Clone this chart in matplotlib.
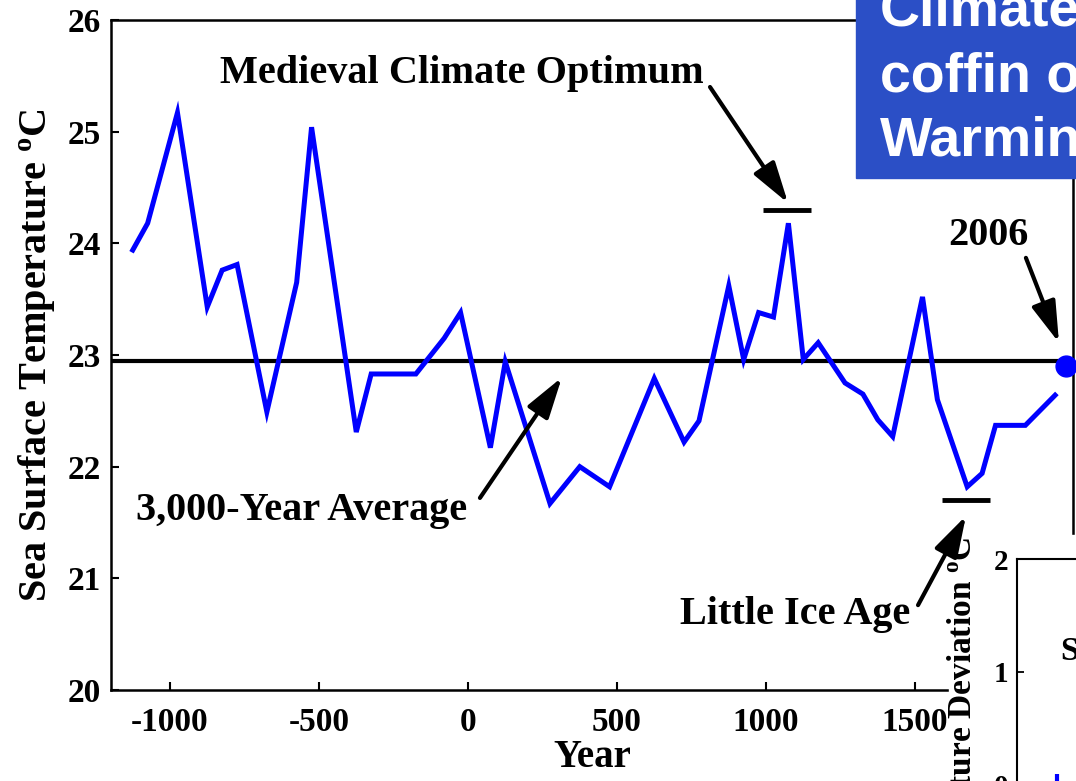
import matplotlib
matplotlib.use("Agg")
import matplotlib.pyplot as plt
from matplotlib.patches import Rectangle
from matplotlib.text import Annotation

plt.rcParams['font.family'] = ['Liberation Serif', 'DejaVu Serif']
plt.rcParams['font.weight'] = 'bold'
plt.rcParams['axes.labelweight'] = 'bold'
plt.rcParams['axes.unicode_minus'] = False
plt.rcParams['mathtext.fontset'] = 'custom'
plt.rcParams['mathtext.rm'] = 'Liberation Serif:bold'
plt.rcParams['mathtext.it'] = 'Liberation Serif:bold:italic'
plt.rcParams['mathtext.bf'] = 'Liberation Serif:bold'

# --- Sargasso Sea surface temperature reconstruction ---
years = [-1125, -1075, -975, -875, -825, -775, -675, -575, -525, -375, -325, -175,
         -80, -25, 75, 125, 275, 375, 475, 625, 725, 775, 875, 925, 975, 1025,
         1075, 1125, 1175, 1265, 1325, 1375, 1425, 1525, 1575, 1675, 1725, 1770,
         1870, 1970]
sst = [23.94, 24.18, 25.17, 23.43, 23.76, 23.81, 22.49, 23.65, 25.04, 22.31, 22.83,
       22.83, 23.15, 23.38, 22.17, 22.94, 21.67, 22.00, 21.82, 22.79, 22.22, 22.41,
       23.62, 22.96, 23.38, 23.34, 24.18, 22.96, 23.11, 22.75, 22.65, 22.42, 22.27,
       23.52, 22.60, 21.82, 21.94, 22.37, 22.37, 22.64]
avg_sst = 22.95
year_2006 = 2006
sst_2006 = 22.9

period_start = [990, 1590]
period_end = [1150, 1750]
period_level = [24.3, 21.7]

# inset (deviation chart, mostly cut off)
inset_x = [2.0, 3.2]
inset_dev = [0.1, 0.32]

W, H = 1076, 781
def px_rect(l, t, r, b):
    return [l / W, 1 - b / H, (r - l) / W, (b - t) / H]

blue = '#0000ff'
fig = plt.figure(figsize=(W / 100, H / 100), dpi=100)

ax = fig.add_axes(px_rect(111, 20, 1073, 690))
ax.set_facecolor('none')
ax.axhline(avg_sst, color='black', lw=3, zorder=1)
ax.plot(years, sst, color=blue, lw=3.6, solid_joinstyle='miter', zorder=2)
ax.plot([year_2006], [sst_2006], 'o', color=blue, ms=15, clip_on=False, zorder=3)
for s, e, lv in zip(period_start, period_end, period_level):
    ax.plot([s, e], [lv, lv], color='black', lw=3.5, solid_capstyle='butt')

ax.set_xlim(-1198, 2030)
ax.set_ylim(20, 26)
ax.set_xticks([-1000, -500, 0, 500, 1000, 1500])
ax.set_yticks(range(20, 27))
ax.tick_params(direction='in', length=6, width=1.5, labelsize=24)
ax.tick_params(axis='x', pad=12)
ax.tick_params(axis='y', pad=7)
for sp in ax.spines.values():
    sp.set_linewidth(1.8)
ax.set_xlabel("Year", fontsize=28, labelpad=1)
ax.set_ylabel("Sea Surface Temperature $^\\mathrm{o}$C", fontsize=29, labelpad=8)

arrow = dict(arrowstyle='-|>,head_length=0.84,head_width=0.25', lw=3, color='black',
             mutation_scale=30, shrinkA=0, shrinkB=0)

ax.text(-20, 25.44, "Medieval Climate Optimum", fontsize=29, ha='center', va='baseline')
ax.annotate("", xy=(1074, 24.36), xytext=(812, 25.40), arrowprops=arrow)

ax.text(1745, 23.985, "2006", fontsize=29, ha='center', va='baseline')
ax.annotate("", xy=(1983, 23.11), xytext=(1872, 23.87), arrowprops=arrow)

ax.text(-560, 21.52, "3,000-Year Average", fontsize=29, ha='center', va='baseline')
ax.annotate("", xy=(315, 22.80), xytext=(40, 21.72), arrowprops=arrow)

ax.text(1097, 20.59, "Little Ice Age", fontsize=29, ha='center', va='baseline')
lia = Annotation("", xy=(1671, 21.56), xytext=(1510, 20.76), xycoords=ax.transData,
                 textcoords=ax.transData, arrowprops=arrow, zorder=4)
fig.add_artist(lia)

# blue headline box (cut off by the image edge, as in the source)
fig.add_artist(Rectangle((856 / W, 1 - 178 / H), 0.5, 0.5, transform=fig.transFigure,
                         color='#2b4fc6', zorder=2))
for txt, base in zip(["Climategate", "coffin of", "Warming"], [26, 91, 156]):
    fig.text(880 / W, 1 - base / H, txt, fontsize=40, color='white',
             family=['Liberation Sans', 'DejaVu Sans'], weight='bold',
             va='baseline', ha='left', zorder=3)

# white panel of the inset chart
fig.add_artist(Rectangle((949 / W, 0), 0.5, (H - 535) / H, transform=fig.transFigure,
                         color='white', zorder=0.5))
ax2 = fig.add_axes(px_rect(1017, 559, 1217, 898))
ax2.set_zorder(1)
ax2.vlines(inset_x, 0, inset_dev, color=blue, lw=3)
ax2.set_xlim(0, 10)
ax2.set_ylim(-1, 2)
ax2.set_yticks([0, 1, 2])
ax2.set_xticks([])
ax2.tick_params(direction='in', length=5, width=1.3, labelsize=21, pad=6)
for sp in ax2.spines.values():
    sp.set_linewidth(1.5)
fig.text(962 / W, 1 - 537 / H, "Temperature Deviation $^\\mathrm{o}$C",
         rotation=90, ha='center', va='top', fontsize=24, zorder=3)
fig.text(1060 / W, 1 - 660 / H, "S", fontsize=24, va='baseline', zorder=3)

fig.savefig("out.png", dpi=100)
